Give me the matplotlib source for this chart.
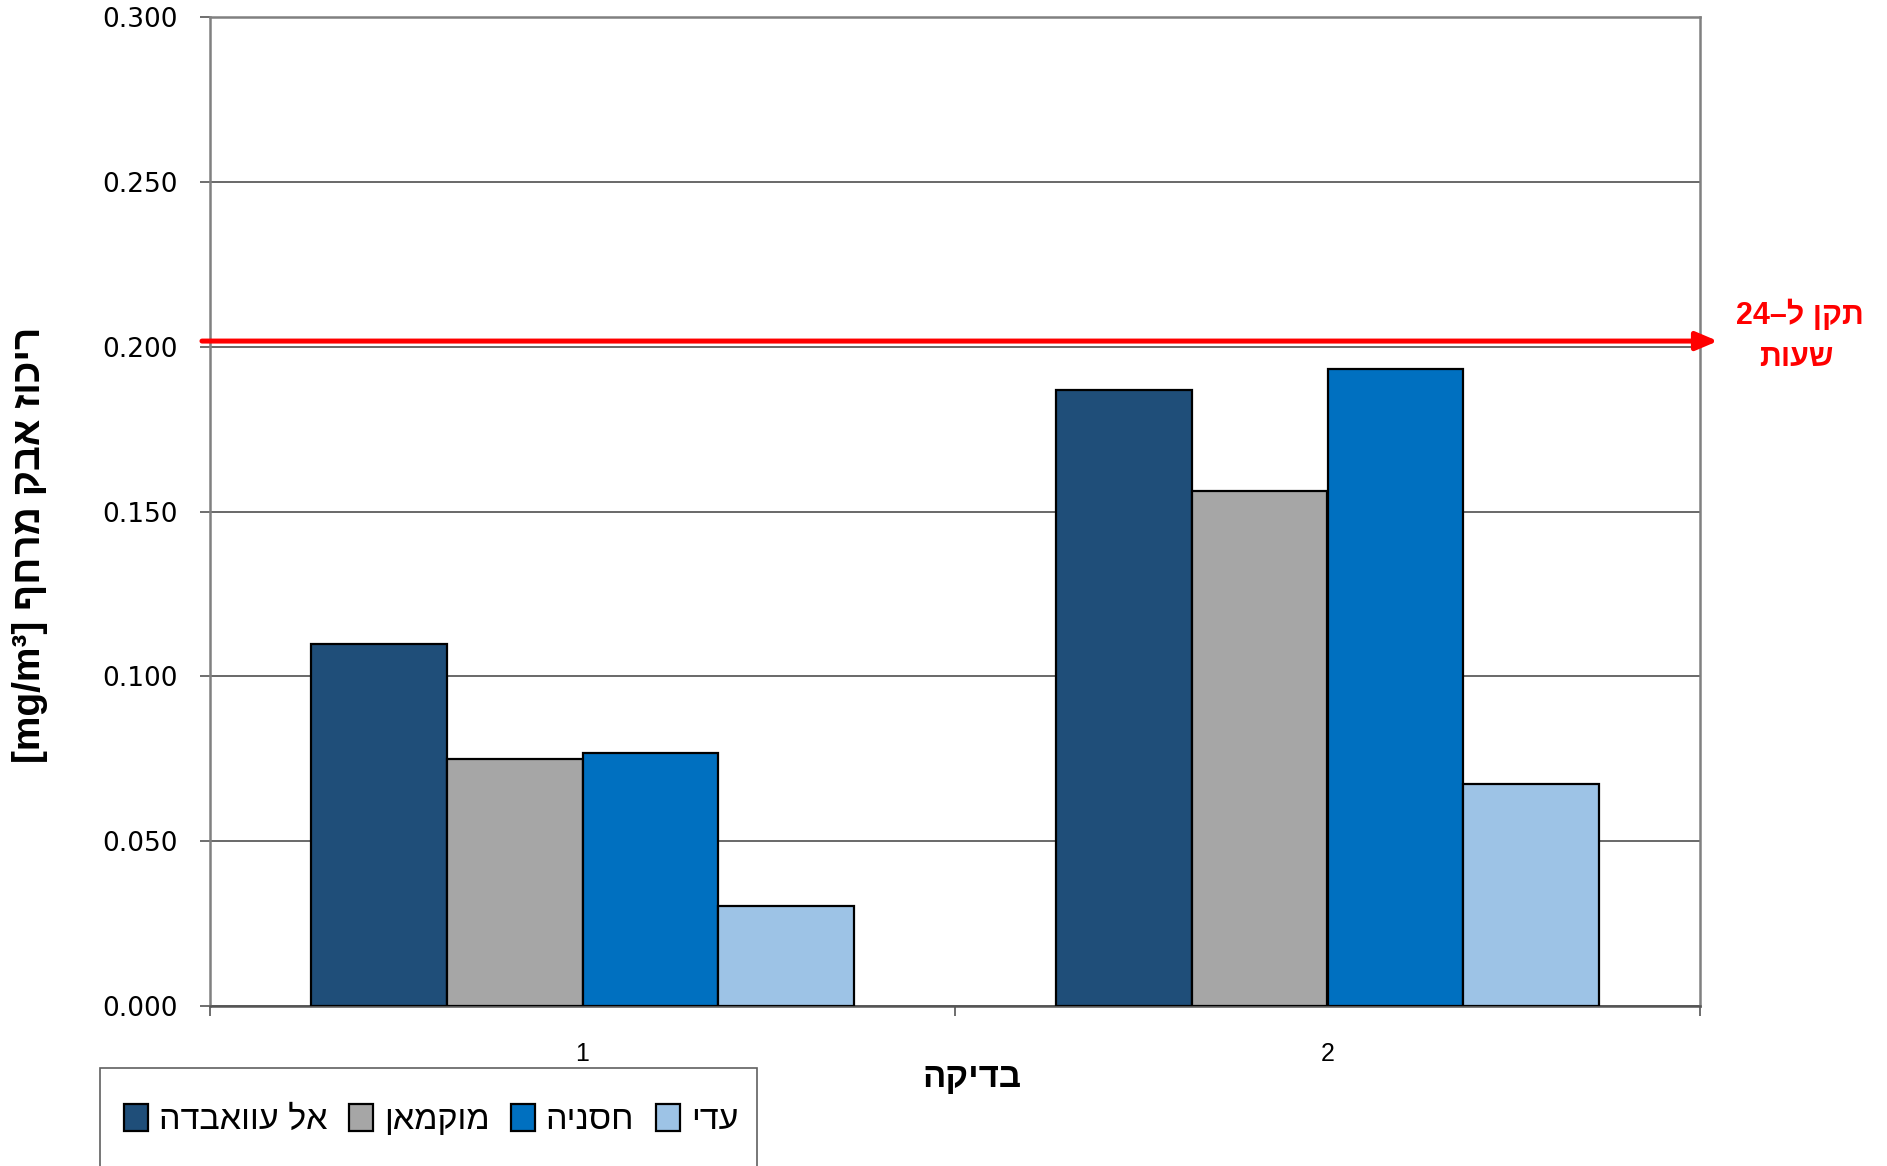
import re
import matplotlib
matplotlib.use("Agg")
import matplotlib.pyplot as plt
from matplotlib.patches import Rectangle

plt.rcParams['font.family'] = ['Liberation Sans', 'DejaVu Sans']

# data
tests = ["1", "2"]
sites = ["אל עוואבדה", "מוקמאן", "חסניה", "עדי"]
values = {
    "אל עוואבדה": [0.1097, 0.1868],
    "מוקמאן": [0.0748, 0.1561],
    "חסניה": [0.0766, 0.1931],
    "עדי": [0.0302, 0.0674],
}
colors = ["#1F4E79", "#A6A6A6", "#0070C0", "#9DC3E6"]
limit_24h = 0.2017
yticks = [0.0, 0.05, 0.10, 0.15, 0.20, 0.25, 0.30]


def vis(s):
    # matplotlib draws left to right, so put the hebrew runs in visual order
    toks = re.findall(r'[\u0590-\u05FF]+|[A-Za-z0-9\[\]/³]+|.', s)
    out = []
    for t in reversed(toks):
        if re.match(r'[\u0590-\u05FF]', t):
            t = t[::-1]
        out.append(t)
    return "".join(out)


W, H = 1887, 1166
fig = plt.figure(figsize=(W / 100, H / 100), dpi=100)
ax = fig.add_axes([210 / W, 1 - 1006 / H, 1490 / W, 989 / H])

n = len(sites)
w = 0.7289 / n
for i, (name, c) in enumerate(zip(sites, colors)):
    xs = [k + (i - (n - 1) / 2) * w for k in range(len(tests))]
    ax.bar(xs, values[name], width=w, color=c, edgecolor="black",
           linewidth=1.6, label=vis(name), zorder=3)

ax.set_xlim(-0.5, len(tests) - 0.5)
ax.set_ylim(0, 0.30)
ax.set_yticks(yticks)
ax.set_yticklabels(["%.3f" % v for v in yticks], fontsize=19, family="DejaVu Sans")
ax.yaxis.grid(True, color="#404040", linewidth=1.1, zorder=0)
ax.set_axisbelow(True)

ax.set_xticks([k - 0.5 for k in range(len(tests) + 1)])
ax.set_xticklabels([])
ax.set_xticks(range(len(tests)), minor=True)
ax.set_xticklabels(tests, minor=True, fontsize=18)
ax.tick_params(axis="x", which="minor", length=0, pad=26)
ax.tick_params(axis="x", which="major", length=7, color="#555555", width=1.2)
ax.tick_params(axis="y", length=7, color="#555555", width=1.2, pad=16)

for s in ["left", "right", "top", "bottom"]:
    ax.spines[s].set_color("#808080")
    ax.spines[s].set_linewidth(1.8)
ax.spines["bottom"].set_color("#555555")

# 24h standard line with arrow
ax.annotate("", xy=(1.012, limit_24h), xycoords=("axes fraction", "data"),
            xytext=(-0.0054, limit_24h), textcoords=("axes fraction", "data"),
            arrowprops=dict(arrowstyle="-|>,head_length=1.3,head_width=0.55",
                        color="#FF0000", lw=3.6, shrinkA=0, shrinkB=0),
            annotation_clip=False, zorder=5)
fig.text(1800 / W, 1 - 315 / H, vis("תקן ל–24"), color="#FF0000",
         fontsize=22, fontweight="bold", ha="center", va="center")
fig.text(1796 / W, 1 - 358 / H, vis("שעות"), color="#FF0000",
         fontsize=22, fontweight="bold", ha="center", va="center")

fig.text(30 / W, 1 - 545 / H, vis("ריכוז אבק מרחף [mg/m³]"), rotation=90,
         fontsize=28, fontweight="bold", ha="center", va="center")
fig.text(972 / W, 1 - 1077 / H, vis("בדיקה"), fontsize=25,
         fontweight="bold", ha="center", va="center")

# legend box, cut off by the bottom edge as in the original
fig.patches.append(Rectangle((100 / W, -0.02), 657 / W, 0.02 + 98 / H,
                             transform=fig.transFigure, fill=False,
                             edgecolor="#606060", linewidth=1.2))
fig.legend(loc="center left", bbox_to_anchor=(124 / W, 1 - 1120 / H), ncol=4,
           frameon=False, fontsize=24.5, handlelength=0.7, handleheight=0.85,
           handletextpad=0.32, columnspacing=0.64, borderpad=0, borderaxespad=0)

fig.savefig("out.png", dpi=100)
